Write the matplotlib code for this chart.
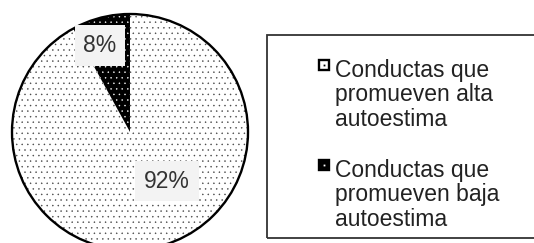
import matplotlib
matplotlib.use("Agg")
import matplotlib.pyplot as plt
from matplotlib.patches import Circle, Rectangle

categories = ["Conductas que\npromueven alta\nautoestima",
              "Conductas que\npromueven baja\nautoestima"]
values = [92, 8]
pct_labels = [f"{v}%" for v in values]

plt.rcParams['hatch.linewidth'] = 0.3
FONT = 'Liberation Sans'

fig = plt.figure(figsize=(5.34, 2.43), dpi=100)
ax = fig.add_axes([0, 0, 1, 1])

cx, cy, r = 130, 111, 118
wedges, _ = ax.pie(values, startangle=90, counterclock=False, center=(cx, cy),
                   radius=r, colors=['white', 'black'],
                   wedgeprops=dict(linewidth=0))
wedges[0].set_hatch('...')
wedges[0].set_edgecolor('#444444')
wedges[0].set_linewidth(0)
wedges[1].set_hatch('...')
wedges[1].set_edgecolor('white')
wedges[1].set_linewidth(0)
ax.add_patch(Circle((cx, cy), r, fill=False, ec='black', lw=1.7, zorder=3))

label_pos = [(100, 197.5), (167, 62)]
label_pos = [label_pos[1], label_pos[0]]
for (x, y), s in zip(label_pos, pct_labels):
    ax.text(x, y, s, ha='center', va='center', fontsize=16.5, family=FONT,
            color='#333333', zorder=5,
            bbox=dict(boxstyle='square,pad=0.38', fc='#f3f3f3', ec='none'))

# legend frame
ax.add_patch(Rectangle((267, 5), 300, 203, fill=False, ec='#333333', lw=1.3, zorder=4))

leg_tops = [183, 83]
face = ['white', 'black']
dotc = ['black', 'white']
for top, cat, fc, dc in zip(leg_tops, categories, face, dotc):
    ax.add_patch(Rectangle((318.5, top - 10), 10, 10, fc=fc, ec='black', lw=1.7, zorder=5))
    ax.plot([323.5], [top - 5], marker='s', ms=1.3, color=dc, mew=0, zorder=6)
    ax.text(335, top + 1, cat, ha='left', va='top', fontsize=16.5, family=FONT,
            color='#222222', linespacing=1.07, zorder=5)

ax.set_xlim(0, 534)
ax.set_ylim(0, 243)
ax.set_aspect('auto')
ax.axis('off')

fig.savefig('out.png', dpi=100, facecolor='white')
